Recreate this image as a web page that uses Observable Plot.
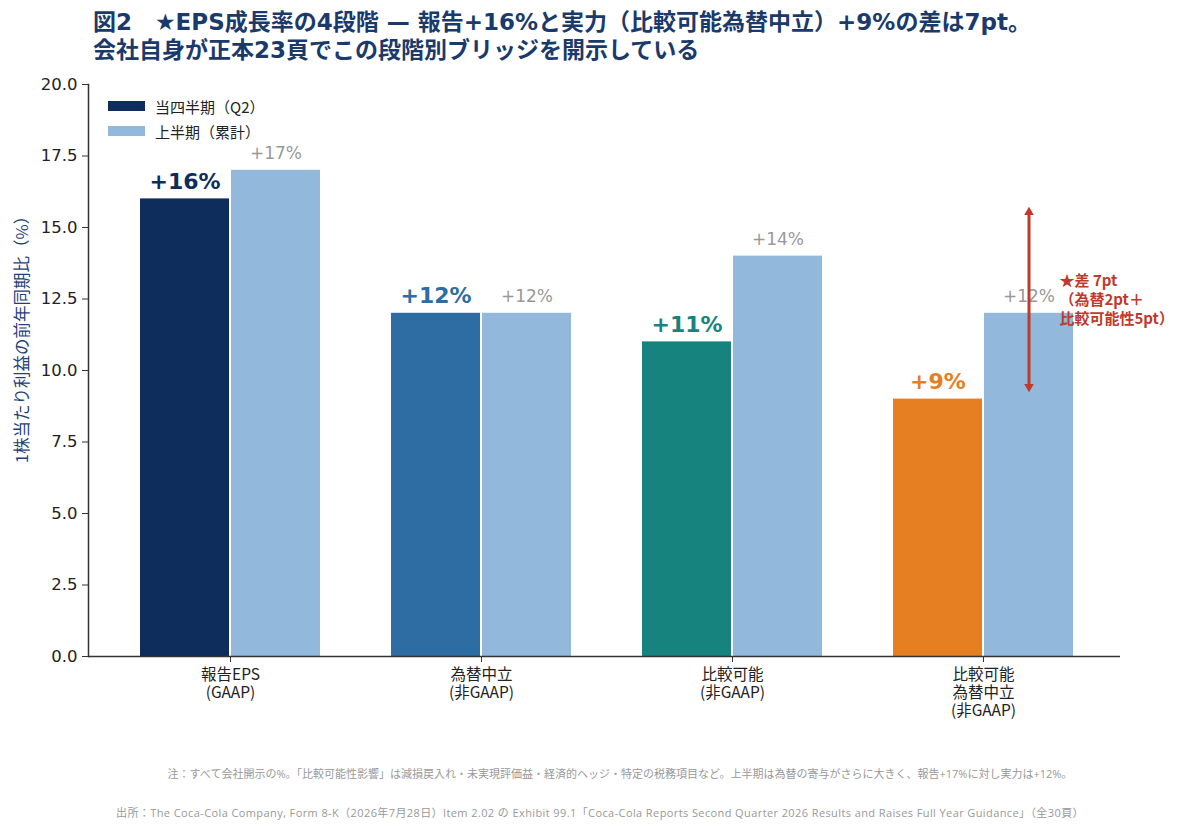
<!DOCTYPE html>
<html><head><meta charset="utf-8">
<script src="https://cdn.jsdelivr.net/npm/d3@7"></script>
<script src="https://cdn.jsdelivr.net/npm/@observablehq/plot@0.6"></script>
<style>
body{margin:0;background:#fff;}
#wrap{position:relative;width:1200px;height:832px;overflow:hidden;background:#fff;font-family:"Noto Sans CJK JP","Noto Sans",sans-serif;}
#title{position:absolute;left:93px;top:8px;font-size:23px;line-height:28px;font-weight:700;color:#1a3a6b;white-space:nowrap;font-family:"DejaVu Sans","Noto Sans CJK JP",sans-serif;}
#chart{position:absolute;left:0;top:70px;}
.legend{position:absolute;left:108px;font-size:15px;color:#222;display:flex;align-items:center;height:20px;}
.sw{width:37px;height:10px;margin-right:10px;}
.note{position:absolute;left:0;width:1200px;text-align:center;font-size:11px;color:#999;white-space:nowrap;font-family:"Open Sans","Noto Sans CJK JP",sans-serif;}
</style></head>
<body><div id="wrap">
<div id="title">図2　★EPS成長率の4段階 — 報告+16%と実力（比較可能為替中立）+9%の差は7pt。<br>会社自身が正本23頁でこの段階別ブリッジを開示している</div>
<div id="chart"></div>
<div id="legend"></div>
<div class="note" style="top:765px;left:20px">注：すべて会社開示の%。「比較可能性影響」は減損戻入れ・未実現評価益・経済的ヘッジ・特定の税務項目など。上半期は為替の寄与がさらに大きく、報告+17%に対し実力は+12%。</div>
<div class="note" style="top:804px;letter-spacing:0.4px">出所：The Coca-Cola Company, Form 8-K（2026年7月28日）Item 2.02 の Exhibit 99.1「Coca-Cola Reports Second Quarter 2026 Results and Raises Full Year Guidance」（全30頁）</div>
</div>
<script>
const categories = ["報告EPS\n(GAAP)", "為替中立\n(非GAAP)", "比較可能\n(非GAAP)", "比較可能\n為替中立\n(非GAAP)"];
const q2Values = [16, 12, 11, 9];
const h1Values = [17, 12, 14, 12];
const seriesNames = ["当四半期（Q2）", "上半期（累計）"];
const q2Colors = ["#0e2d5c", "#2e6da4", "#17837f", "#e67e22"];
const h1Color = "#92b8db";
const yTicks = [0, 2.5, 5, 7.5, 10, 12.5, 15, 17.5, 20];
const gapLow = 9, gapHigh = 16;
const gapNote = "★差 7pt\n（為替2pt＋\n比較可能性5pt）";
const yLabel = "1株当たり利益の前年同期比（%）";

const rows = categories.map((c, i) => ({cat: c, q2: q2Values[i], h1: h1Values[i], col: q2Colors[i]}));

const W = 1200, ML = 88, MR = 80, PI = 0.283, PO = 0.197, ALIGN = 0.525;
const step = (W - ML - MR) / (categories.length - PI + 2 * PO);
const bw = step * (1 - PI);
const half = bw / 2;
const inset = half + 1;
const barOff = half / 2 + 0.5;
const cjk = "'Noto Sans CJK JP', 'Noto Sans', sans-serif";
const red = "#c0392b";
const last = () => categories[categories.length - 1];

const chart = Plot.plot({
  width: W, height: 666,
  marginLeft: ML, marginRight: MR, marginTop: 14, marginBottom: 80,
  style: {fontFamily: "'DejaVu Sans', 'Noto Sans CJK JP', sans-serif", background: "white", overflow: "visible", color: "#222"},
  x: {domain: categories, paddingInner: PI, paddingOuter: PO, align: ALIGN, label: null},
  y: {domain: [0, 20], label: null},
  color: {type: "identity"},
  marks: [
    Plot.barY(rows, {x: "cat", y: "q2", fill: "col", insetRight: inset}),
    Plot.barY(rows, {x: "cat", y: "h1", fill: h1Color, insetLeft: inset}),
    Plot.ruleY([0], {stroke: "#333", strokeWidth: 1.5}),
    Plot.frame({anchor: "left", stroke: "#333", strokeWidth: 1.5}),
    Plot.axisY({ticks: yTicks, tickFormat: d3.format(".1f"), tickSize: 6, tickPadding: 5, fontSize: 16.5, label: null, stroke: "#333"}),
    Plot.axisX({tickSize: 6, tickPadding: 4, fontSize: 15.5, fontFamily: cjk, lineHeight: 1.18, label: null, stroke: "#333"}),
    Plot.text(rows, {x: "cat", y: "q2", text: d => `+${d.q2}%`, dx: -barOff, dy: -17, fill: "col", fontWeight: "bold", fontSize: 22}),
    Plot.text(rows, {x: "cat", y: "h1", text: d => `+${d.h1}%`, dx: barOff, dy: -17, fill: "#999", fontSize: 17}),
    Plot.ruleX([{lo: gapLow, hi: gapHigh}], {x: last, y1: "hi", y2: "lo", dx: barOff, stroke: red, strokeWidth: 3, insetTop: 12, insetBottom: 12}),
    Plot.dot([gapHigh], {x: last, y: d => d, dx: barOff, dy: 13.4, symbol: "triangle2", r: 4.6, fill: red, rotate: 0}),
    Plot.dot([gapLow], {x: last, y: d => d, dx: barOff, dy: -12.4, symbol: "triangle2", r: 4.6, fill: red, rotate: 180}),
    Plot.text([gapNote], {x: last, y: (gapLow + gapHigh) / 2, text: d => d, textAnchor: "start", lineAnchor: "middle", dx: 76, fill: red, fontWeight: "bold", fontSize: 15, lineHeight: 1.27, fontFamily: cjk}),
    Plot.text([yLabel], {frameAnchor: "left", textAnchor: "middle", rotate: -90, dx: -66, dy: -35, fontSize: 16.5, fill: "#1f3f7a", fontFamily: cjk})
  ]
});
document.getElementById("chart").appendChild(chart);

const leg = document.getElementById("legend");
[q2Colors[0], h1Color].forEach((c, i) => {
  const d = document.createElement("div");
  d.className = "legend";
  d.style.top = (96 + i * 25) + "px";
  d.innerHTML = `<div class="sw" style="background:${c}"></div><span>${seriesNames[i]}</span>`;
  leg.appendChild(d);
});
</script>
</body></html>
